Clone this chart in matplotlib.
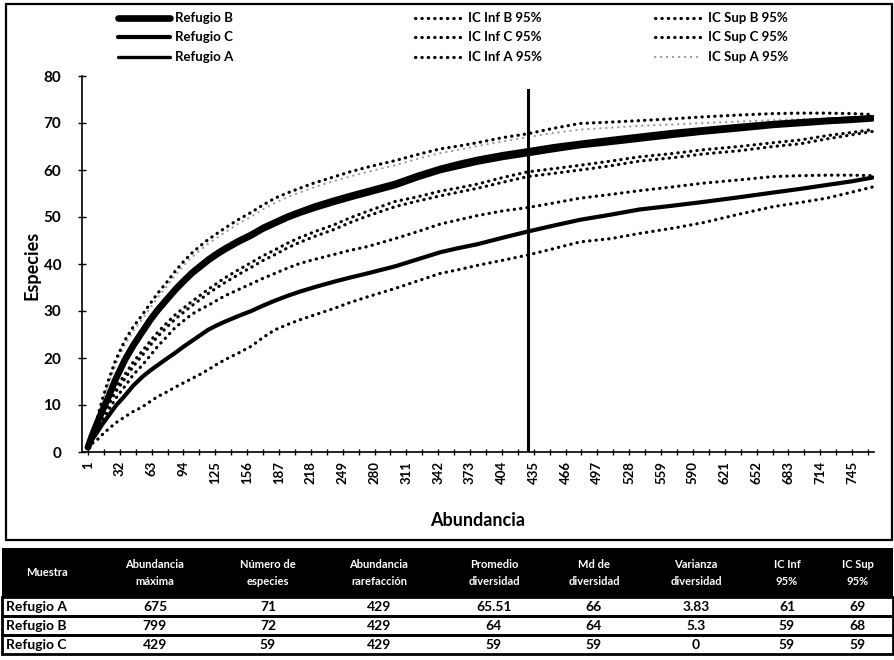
import matplotlib
matplotlib.use("Agg")
import matplotlib.pyplot as plt
from matplotlib.patches import Rectangle

plt.rcParams['font.family'] = ['Lato', 'DejaVu Sans']
plt.rcParams['font.weight'] = 'bold'

# abundance values where the rarefaction curves were sampled
abund = [1, 5, 10, 15, 20, 28, 37, 45, 54, 62, 69, 78, 86, 94, 102, 110, 118, 126, 134,
         147, 160, 171, 183, 195, 207, 222, 240, 256, 273, 300, 322, 344, 362, 380, 405,
         429, 455, 480, 510, 538, 570, 600, 635, 668, 695, 720, 745, 765]

refugio_b = [1, 3.5, 6.2, 8.8, 11.2, 15.5, 19.6, 22.6, 25.6, 28.2, 30.2, 32.5, 34.5, 36.3,
             38.0, 39.4, 40.8, 42.0, 43.1, 44.7, 46.1, 47.5, 48.7, 49.9, 50.9, 52.0, 53.2,
             54.2, 55.2, 56.8, 58.5, 60.0, 60.9, 61.8, 62.8, 63.6, 64.5, 65.3, 66.0, 66.7,
             67.5, 68.2, 68.9, 69.6, 70.0, 70.4, 70.7, 71.0]
refugio_a = [1, 3.8, 6.6, 9.2, 11.7, 16.0, 20.2, 23.2, 26.1, 28.7, 30.7, 33.0, 35.0, 36.8,
             38.5, 39.9, 41.3, 42.5, 43.6, 45.2, 46.6, 48.0, 49.2, 50.4, 51.4, 52.6, 53.8,
             54.8, 55.8, 57.4, 59.1, 60.6, 61.6, 62.5, 63.5, 64.3, 65.2, 65.9, 66.7, 67.4,
             68.2, 68.8, 69.5, 70.1, 70.5, 70.8, 71.1, 71.3]
refugio_c = [1, 2.6, 4.2, 5.9, 7.4, 9.8, 12.0, 14.1, 16.0, 17.4, 18.5, 19.9, 21.1, 22.4,
             23.6, 24.8, 26.0, 26.9, 27.7, 28.9, 30.0, 31.1, 32.2, 33.2, 34.1, 35.1, 36.2,
             37.1, 38.0, 39.5, 41.0, 42.5, 43.4, 44.2, 45.6, 46.9, 48.2, 49.4, 50.5, 51.6,
             52.4, 53.2, 54.2, 55.2, 56.0, 56.8, 57.6, 58.4]

ic_sup_b = [1, 4.0, 7.2, 11.2, 14.7, 19.6, 23.8, 26.6, 29.2, 31.7, 33.8, 36.2, 38.5, 40.5,
            42.3, 43.8, 45.2, 46.4, 47.6, 49.4, 51.0, 52.5, 54.0, 55.1, 56.1, 57.3, 58.5,
            59.6, 60.6, 62.0, 63.3, 64.5, 65.1, 65.8, 66.9, 67.7, 68.9, 69.9, 70.2, 70.5,
            70.9, 71.3, 71.7, 72.0, 72.1, 72.1, 72.0, 71.8]
ic_sup_a = [1, 3.7, 6.7, 10.4, 13.8, 18.6, 22.8, 25.7, 28.3, 30.8, 32.9, 35.3, 37.6, 39.6,
            41.4, 42.9, 44.3, 45.5, 46.7, 48.5, 50.1, 51.6, 53.0, 54.2, 55.2, 56.4, 57.6,
            58.6, 59.6, 61.0, 62.4, 63.6, 64.3, 65.1, 66.1, 67.0, 67.9, 68.6, 69.0, 69.4,
            69.7, 70.0, 70.3, 70.6, 70.8, 71.0, 71.1, 71.2]
ic_inf_b = [1, 3.0, 5.2, 7.8, 10.3, 13.6, 16.5, 19.1, 21.5, 23.7, 25.5, 27.5, 29.2, 30.6,
            32.0, 33.3, 34.6, 35.8, 37.0, 38.7, 40.3, 41.7, 43.0, 44.4, 45.6, 46.9, 48.3,
            49.8, 51.2, 53.3, 54.3, 55.5, 56.2, 57.0, 58.4, 59.6, 60.3, 61.0, 61.9, 62.8,
            63.5, 64.3, 65.0, 65.8, 66.4, 67.3, 68.0, 68.6]
ic_inf_a = [1, 2.8, 4.8, 7.2, 9.6, 12.8, 15.6, 18.2, 20.6, 22.8, 24.6, 26.6, 28.3, 29.7,
            31.1, 32.4, 33.7, 34.9, 36.0, 37.7, 39.3, 40.7, 42.0, 43.4, 44.6, 45.9, 47.3,
            48.8, 50.2, 52.2, 53.4, 54.5, 55.3, 56.1, 57.4, 58.6, 59.3, 60.0, 60.9, 61.9,
            62.6, 63.4, 64.1, 65.0, 65.6, 66.6, 67.5, 68.2]
ic_sup_c = [1, 2.8, 4.5, 6.6, 8.5, 11.4, 14.0, 16.4, 18.5, 20.6, 22.5, 24.6, 26.5, 27.9,
            29.3, 30.3, 31.2, 32.2, 33.2, 34.5, 35.8, 36.9, 38.0, 39.1, 40.1, 41.0, 42.0,
            42.9, 43.7, 45.4, 46.9, 48.5, 49.4, 50.3, 51.3, 52.0, 53.0, 54.0, 54.8, 55.6,
            56.4, 57.2, 57.9, 58.6, 58.8, 58.9, 58.9, 58.8]
ic_inf_c = [1, 1.8, 2.6, 3.7, 4.7, 6.2, 7.5, 8.6, 9.6, 10.8, 11.8, 12.8, 13.8, 14.7,
            15.6, 16.5, 17.5, 18.6, 19.6, 21.0, 22.5, 24.3, 26.0, 27.1, 28.1, 29.2, 30.5,
            31.8, 33.0, 34.8, 36.4, 38.0, 38.8, 39.7, 40.8, 41.9, 43.3, 44.7, 45.4, 46.5,
            47.6, 48.8, 50.6, 52.2, 53.1, 54.0, 55.3, 56.4]

# rarefied abundance marker
corte = 429
corte_top = 77

x_ticks = list(range(1, 746, 31))
y_ticks = list(range(0, 81, 10))

# summary table
headers = ["Muestra", "Abundancia\nmáxima", "Número de\nespecies", "Abundancia\nrarefacción",
           "Promedio\ndiversidad", "Md de\ndiversidad", "Varianza\ndiversidad",
           "IC Inf\n95%", "IC Sup\n95%"]
muestras = ["Refugio A", "Refugio B", "Refugio C"]
abund_max = ["675", "799", "429"]
n_especies = ["71", "72", "59"]
abund_rare = ["429", "429", "429"]
prom_div = ["65.51", "64", "59"]
md_div = ["66", "64", "59"]
var_div = ["3.83", "5.3", "0"]
ic_inf = ["61", "59", "59"]
ic_sup = ["69", "68", "59"]

# line styles
dot = dict(color='black', lw=2.3, linestyle=(0, (0.1, 1.9)), dash_capstyle='round')
dot_light = dict(color='#9a9a9a', lw=1.6, linestyle=(0, (0.1, 2.6)), dash_capstyle='round')
st_b = dict(color='black', lw=4.8, solid_capstyle='round')
st_c = dict(color='black', lw=3.0, solid_capstyle='round')
st_a = dict(color='black', lw=2.4, solid_capstyle='round')

series = [
    ("Refugio B", refugio_b, st_b),
    ("Refugio C", refugio_c, st_c),
    ("Refugio A", refugio_a, st_a),
    ("IC Inf B 95%", ic_inf_b, dot),
    ("IC Inf C 95%", ic_inf_c, dot),
    ("IC Inf A 95%", ic_inf_a, dot),
    ("IC Sup B 95%", ic_sup_b, dot),
    ("IC Sup C 95%", ic_sup_c, dot),
    ("IC Sup A 95%", ic_sup_a, dot_light),
]

W, H = 895, 660
fig = plt.figure(figsize=(W / 100, H / 100), dpi=100)

# background layer in pixel coordinates (frame, legend, table)
bg = fig.add_axes([0, 0, 1, 1])
bg.set_xlim(0, W)
bg.set_ylim(H, 0)
bg.axis('off')
bg.add_patch(Rectangle((6, 4), 886, 536, fill=False, lw=1.6, ec='black'))

# legend, three columns filled top to bottom
leg_cols = [(118, 170), (415, 463), (655, 703)]
leg_rows = [18, 37, 57]
for i, (label, _, st) in enumerate(series):
    x0, x1 = leg_cols[i // 3]
    y = leg_rows[i % 3]
    bg.plot([x0, x1], [y, y], **st)
    bg.text(x1 + 5, y, label, fontsize=9.5, va='center', ha='left')

# main plot
ax = fig.add_axes([82 / W, 1 - 452 / H, (874 - 82) / W, (452 - 76) / H])
for label, vals, st in series[::-1]:
    ax.plot(abund, vals, **st)
ax.plot([corte, corte], [0, corte_top], color='black', lw=2.2)

ax.set_xlim(-4.8, 766.3)
ax.set_ylim(0, 80)
ax.set_yticks(y_ticks)
ax.set_xticks(x_ticks)
ax.set_xticks([t + 15.5 for t in x_ticks], minor=True)
ax.set_xticklabels([str(t) for t in x_ticks], rotation=90, fontsize=9.5)
ax.tick_params(axis='y', labelsize=11, direction='inout', length=6, width=1, pad=12)
ax.tick_params(axis='x', which='both', direction='inout', length=5, width=1, pad=4)
for s in ['top', 'right']:
    ax.spines[s].set_visible(False)
ax.spines['left'].set_linewidth(1.2)
ax.spines['bottom'].set_linewidth(1.2)

bg.text(32, 265, "Especies", fontsize=13, rotation=90, ha='center', va='center')
bg.text(478, 521, "Abundancia", fontsize=13, ha='center', va='center')

# table
col_edges = [2, 92, 218, 318, 440, 548, 640, 752, 822, 893]
bg.add_patch(Rectangle((2, 548), 891, 49, color='black', lw=0))
for j, h in enumerate(headers):
    cx = (col_edges[j] + col_edges[j + 1]) / 2
    bg.text(cx, 573, h, color='white', fontsize=8, ha='center', va='center',
            linespacing=1.6)

rows = list(zip(muestras, abund_max, n_especies, abund_rare, prom_div, md_div,
                var_div, ic_inf, ic_sup))
row_top = 597
row_h = 19
for i, row in enumerate(rows):
    y0 = row_top + i * row_h
    yc = y0 + row_h / 2 + 0.5
    bg.add_patch(Rectangle((2, y0), 891, row_h, fill=False, ec='black', lw=2))
    bg.text(6, yc, row[0], fontsize=10, ha='left', va='center')
    for j, val in enumerate(row[1:], start=1):
        cx = (col_edges[j] + col_edges[j + 1]) / 2
        bg.text(cx, yc, val, fontsize=10, ha='center', va='center')

fig.savefig("out.png", dpi=100)
